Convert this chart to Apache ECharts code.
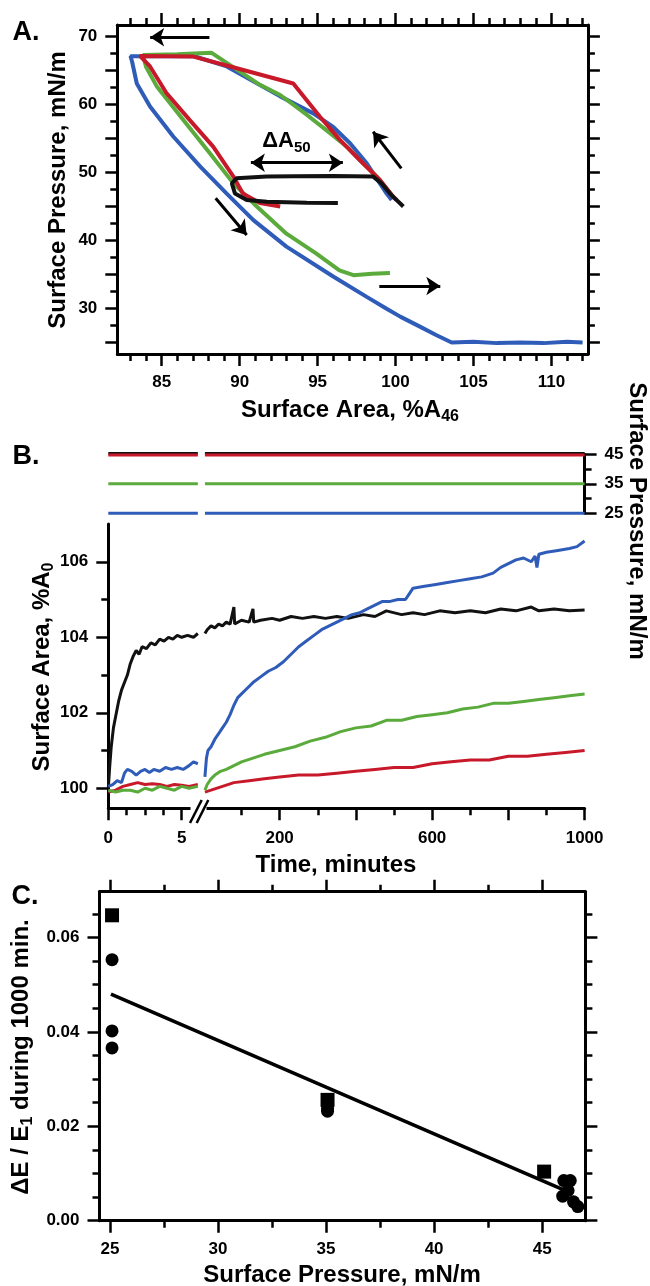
<!DOCTYPE html>
<html><head><meta charset="utf-8">
<script src="https://cdn.jsdelivr.net/npm/echarts@6/dist/echarts.min.js"></script>
<style>html,body{margin:0;padding:0;background:#fff}#c{width:650px;height:1286px}</style>
</head><body><div id="c"></div>
<script>
// ---------- Panel A data: [surface area %A46, surface pressure mN/m] ----------
const aBlue = [[99.75,45.95],[99.43,46.9],[98.15,51.35],[97.08,54.3],[96.0,56.7],[94.72,58.7],[92.6,61.2],[89.17,65.6],[87.1,67.1],[83.0,67.1],
  [83.1,66.3],[83.4,63.1],[84.25,59.7],[85.74,55.3],[87.46,50.9],[89.17,46.9],[90.88,43.0],[93.0,39.1],[96.0,34.7],[98.15,31.7],
  [99.4,30.0],[100.3,28.8],[101.5,27.4],[102.6,26.1],[103.6,25.0],[105,25.1],[106.5,24.9],[108,25.0],[109.5,24.9],[111,25.1],[112.0,25.0]];
const aGreen = [[99.86,46.4],[98.8,49.4],[97.72,51.8],[96.87,53.8],[95.8,55.8],[94.3,58.5],[92.6,61.4],[91.3,62.9],[88.2,67.6],[86,67.4],[83.8,67.3],
  [84.0,65.5],[84.7,62.6],[86.4,57.7],[88.1,52.8],[89.6,48.4],[91.1,45.0],[93.0,41.0],[94.9,38.1],[96.4,35.6],[97.3,34.9],[98.5,35.1],[99.64,35.2]];
const aRed = [[100.07,45.95],[99.86,46.4],[99.0,48.9],[97.72,51.8],[96.43,54.8],[95.15,58.2],[93.44,63.1],[89.4,65.6],[87.03,67.05],[83.6,67.15],
  [84.25,65.6],[85.3,61.7],[86.8,57.7],[88.3,53.8],[89.6,49.4],[90.2,46.9],[91.3,45.5],[92.6,45.0]];
const aBlack = [[100.5,45.0],[99.64,46.9],[99.1,48.4],[98.57,49.4],[96.0,49.5],[93.5,49.45],[91.74,49.4],[89.8,49.15],[89.5,48.4],[89.7,46.9],
  [90.45,45.95],[91.74,45.7],[94.3,45.55],[96.3,45.5]];
const aXTicks = [85,90,95,100,105,110];
const aXMinor = [83,84,86,87,88,89,91,92,93,94,96,97,98,99,101,102,103,104,106,107,108,109,111,112];
const aYTicks = [25,30,35,40,45,50,55,60,65,70];
const aYLabels = [30,40,50,60,70];
const aYMinor = [27.5,32.5,37.5,42.5,47.5,52.5,57.5,62.5,67.5];
// arrows [x1,y1,x2,y2]
const aArrows = [[88.06,69.9,84.26,69.9],[100.37,50.6,98.56,56.0],[88.46,46.2,90.45,40.8],[98.96,33.3,102.87,33.3]];
const aDouble = [90.72,51.44,96.62,51.44];
const aDeltaLabelPos = [93.0,54.6];

// ---------- Panel B data: [time min, surface area %A0] ----------
const bBlackEarly = [[0,100.0],[0.1,100.6],[0.2,101.1],[0.35,101.6],[0.5,101.9],[0.7,102.3],[0.9,102.6],[1.1,102.8],[1.3,103.0],[1.5,103.3],[1.7,103.5],[1.9,103.65],[2.1,103.55],[2.3,103.75],[2.6,103.7],[2.9,103.85],[3.2,103.8],[3.5,103.95],[3.8,103.9],[4.1,104.0],[4.4,103.95],[4.7,104.05],[5.0,104.0],[5.4,104.05],[5.8,104.0],[6.1,104.1]];
const bBlackLate = [[4,104.1],[10,104.2],[20,104.3],[30,104.25],[40,104.35],[50,104.3],[60,104.4],[70,104.35],[80,104.8],[82,104.35],[100,104.45],[120,104.4],[130,104.75],[132,104.4],[150,104.45],[180,104.5],[200,104.45],[230,104.55],[260,104.5],[290,104.55],[320,104.5],[350,104.55],[380,104.5],[420,104.6],[450,104.55],[480,104.7],[520,104.6],[550,104.65],[580,104.6],[620,104.7],[660,104.65],[700,104.7],[740,104.65],[780,104.75],[820,104.7],[860,104.8],[880,104.7],[920,104.75],[960,104.7],[1000,104.72]];
const bBlueEarly = [[0,100.05],[0.3,100.1],[0.6,100.2],[0.9,100.15],[1.1,100.4],[1.3,100.5],[1.6,100.45],[1.9,100.35],[2.2,100.45],[2.5,100.5],[2.8,100.42],[3.1,100.5],[3.5,100.45],[3.9,100.55],[4.3,100.5],[4.7,100.55],[5.1,100.5],[5.5,100.6],[5.8,100.7],[6.1,100.65]];
const bBlueLate = [[4,100.3],[8,100.8],[12,101.0],[20,101.1],[30,101.3],[40,101.45],[50,101.6],[60,101.75],[70,101.95],[80,102.2],[90,102.4],[100,102.5],[115,102.65],[130,102.8],[150,102.95],[170,103.1],[190,103.2],[210,103.35],[230,103.55],[250,103.75],[270,103.9],[290,104.05],[310,104.2],[330,104.3],[350,104.4],[370,104.5],[390,104.6],[410,104.65],[430,104.75],[450,104.85],[470,104.95],[490,104.95],[510,105.0],[530,105.0],[540,105.15],[550,105.3],[580,105.35],[610,105.4],[640,105.45],[670,105.5],[700,105.55],[730,105.6],[760,105.7],[780,105.85],[800,105.95],[820,106.05],[840,106.1],[860,106.0],[870,106.15],[875,105.85],[880,106.2],[900,106.25],[930,106.3],[960,106.35],[980,106.4],[1000,106.55]];
const bGreenEarly = [[0,99.95],[0.5,99.9],[1,99.95],[1.5,99.95],[2,99.9],[2.5,100.0],[3,99.95],[3.5,100.05],[4,100.0],[4.5,99.95],[5,100.05],[5.5,100.0],[6.1,100.05]];
const bGreenLate = [[4,99.95],[10,100.1],[20,100.25],[30,100.35],[45,100.45],[60,100.5],[80,100.6],[100,100.7],[130,100.8],[160,100.9],[200,101.0],[240,101.1],[280,101.25],[320,101.35],[360,101.5],[400,101.6],[440,101.65],[480,101.8],[520,101.8],[560,101.9],[600,101.95],[640,102.0],[680,102.1],[720,102.15],[760,102.25],[800,102.25],[840,102.3],[880,102.35],[920,102.4],[960,102.45],[1000,102.5]];
const bRedEarly = [[0,99.9],[0.5,99.95],[1,100.05],[1.5,100.1],[2,100.15],[2.5,100.1],[3,100.12],[3.5,100.1],[4,100.05],[4.5,100.1],[5,100.08],[5.5,100.05],[6.1,100.1]];
const bRedLate = [[4,99.9],[20,99.95],[50,100.05],[80,100.15],[120,100.2],[160,100.25],[200,100.3],[250,100.35],[300,100.35],[350,100.4],[400,100.45],[450,100.5],[500,100.55],[550,100.55],[600,100.65],[650,100.7],[700,100.75],[750,100.75],[800,100.85],[850,100.85],[900,100.9],[950,100.95],[1000,101.0]];
// surface pressure held during creep (top strip)
const bPressEarly = {black:[[0,45.3],[6.1,45.3]], red:[[0,44.8],[6.1,44.8]], green:[[0,35],[6.1,35]], blue:[[0,25],[6.1,25]]};
const bPressLate = {black:[[4,45.3],[1000,45.3]], red:[[4,44.8],[1000,44.8]], green:[[4,35],[1000,35]], blue:[[4,25],[1000,25]]};
const bXEarlyTicks = [0,5], bXEarlyMinor = [1.25,2.5,3.75];
const bXLateTicks = [200,400,600,800,1000], bXLateLabels = [200,600,1000], bXLateMinor = [100,300,500,700,900];
const bYTicks = [100,102,104,106], bYMinor = [101,103,105];
const bPTicks = [25,35,45], bPMinor = [30,40];

// ---------- Panel C data: [surface pressure, dE/E1] ----------
const cSquares = [[25.1,0.0647],[35.07,0.0256],[45.09,0.0104]];
const cCircles = [[25.1,0.0553],[25.1,0.0402],[25.1,0.0366],[35.07,0.0238],[35.07,0.0232],[46.0,0.0085],[46.3,0.0085],[45.95,0.0052],[46.2,0.0064],[46.45,0.0040],[46.65,0.0030]];
const cFit = [[25.05,0.0480],[46.1,0.0063]];
const cXTicks = [25,30,35,40,45], cXMinor = [27.5,32.5,37.5,42.5];
const cYTicks = [0,0.02,0.04,0.06], cYMinor = [0.005,0.01,0.015,0.025,0.03,0.035,0.045,0.05,0.055,0.065];

const FONT = "'Liberation Sans', Arial, sans-serif";
const COL = {blue:'#2f5cb8', green:'#5aaa3c', red:'#c8192b', black:'#111111'};

const grids = [
  {left:117.3, top:25, width:470.6, height:329},     // 0 A
  {left:108.3, top:524, width:91, height:284.3},     // 1 B early
  {left:203.4, top:524, width:381.2, height:284.3},  // 2 B late
  {left:108.3, top:454.3, width:91, height:59},      // 3 strip early
  {left:203.4, top:454.3, width:381.2, height:59},   // 4 strip late
  {left:99.5, top:891.7, width:485.9, height:329}    // 5 C
];
const xAxes = [], yAxes = [];
const plain = v => String(v);
function addAxis(list, o) {
  list.push({
    type:'value', gridIndex:o.grid, position:o.pos, min:o.min, max:o.max, show: o.show !== false,
    axisLine:{show:o.line !== false, onZero:false, lineStyle:{color:'#000', width:3}},
    axisTick:{show:!!o.ticks, inside:false, length:o.len || 6, customValues:o.ticks || [], lineStyle:{color:'#000', width:2.5}},
    axisLabel: o.labels ? {show:true, customValues:o.labels, margin:o.margin, fontFamily:FONT, fontWeight:'bold', fontSize:17, color:'#000', formatter:o.fmt || plain} : {show:false},
    splitLine:{show:false}
  });
  return list.length - 1;
}
// Panel A
const axAx = addAxis(xAxes,{grid:0,pos:'bottom',min:82.15,max:112.34,ticks:aXTicks,len:12,labels:aXTicks,margin:20});
addAxis(xAxes,{grid:0,pos:'bottom',min:82.15,max:112.34,ticks:aXMinor,len:7,line:false});
addAxis(xAxes,{grid:0,pos:'top',min:82.15,max:112.34,ticks:aXTicks,len:12});
addAxis(xAxes,{grid:0,pos:'top',min:82.15,max:112.34,ticks:aXMinor,len:7,line:false});
const axAy = addAxis(yAxes,{grid:0,pos:'left',min:23.3,max:71.7,ticks:aYTicks,len:12,labels:aYLabels,margin:20});
addAxis(yAxes,{grid:0,pos:'left',min:23.3,max:71.7,ticks:aYMinor,len:7,line:false});
addAxis(yAxes,{grid:0,pos:'right',min:23.3,max:71.7,ticks:aYTicks,len:12});
addAxis(yAxes,{grid:0,pos:'right',min:23.3,max:71.7,ticks:aYMinor,len:7,line:false});
// Panel B main
const axBEx = addAxis(xAxes,{grid:1,pos:'bottom',min:0,max:6.2,ticks:bXEarlyTicks,len:12,labels:bXEarlyTicks,margin:22});
addAxis(xAxes,{grid:1,pos:'bottom',min:0,max:6.2,ticks:bXEarlyMinor,len:7,line:false});
const axBEy = addAxis(yAxes,{grid:1,pos:'left',min:99.47,max:107,ticks:bYTicks,len:12,labels:bYTicks,margin:20});
addAxis(yAxes,{grid:1,pos:'left',min:99.47,max:107,ticks:bYMinor,len:7,line:false});
const axBLx = addAxis(xAxes,{grid:2,pos:'bottom',min:0,max:1000,ticks:bXLateTicks,len:12,labels:bXLateLabels,margin:22});
addAxis(xAxes,{grid:2,pos:'bottom',min:0,max:1000,ticks:bXLateMinor,len:7,line:false});
const axBLy = addAxis(yAxes,{grid:2,pos:'left',min:99.47,max:107,show:false});
// strip
const axSEx = addAxis(xAxes,{grid:3,pos:'bottom',min:0,max:6.2,show:false});
const axSEy = addAxis(yAxes,{grid:3,pos:'left',min:25,max:45,show:false});
const axSLx = addAxis(xAxes,{grid:4,pos:'bottom',min:0,max:1000,show:false});
const axSLy = addAxis(yAxes,{grid:4,pos:'right',min:25,max:45,ticks:bPTicks,len:12,labels:bPTicks,margin:20});
addAxis(yAxes,{grid:4,pos:'right',min:25,max:45,ticks:bPMinor,len:7,line:false});
// Panel C
const f2 = v => v.toFixed(2);
const axCx = addAxis(xAxes,{grid:5,pos:'bottom',min:24.52,max:47,ticks:cXTicks,len:12,labels:cXTicks,margin:20});
addAxis(xAxes,{grid:5,pos:'bottom',min:24.52,max:47,ticks:cXMinor,len:7,line:false});
addAxis(xAxes,{grid:5,pos:'top',min:24.52,max:47,ticks:cXTicks,len:12});
addAxis(xAxes,{grid:5,pos:'top',min:24.52,max:47,ticks:cXMinor,len:7,line:false});
const axCy = addAxis(yAxes,{grid:5,pos:'left',min:0,max:0.0697,ticks:cYTicks,len:12,labels:cYTicks,margin:20,fmt:f2});
addAxis(yAxes,{grid:5,pos:'left',min:0,max:0.0697,ticks:cYMinor,len:7,line:false});
addAxis(yAxes,{grid:5,pos:'right',min:0,max:0.0697,ticks:cYTicks,len:12});
addAxis(yAxes,{grid:5,pos:'right',min:0,max:0.0697,ticks:cYMinor,len:7,line:false});

function line(xi, yi, data, color, width, extra) {
  return Object.assign({type:'line', xAxisIndex:xi, yAxisIndex:yi, data:data, symbol:'none', showSymbol:false,
    lineStyle:{color:color, width:width}, itemStyle:{color:color}, animation:false, silent:true}, extra || {});
}
const series = [];
// A
series.push(line(axAx, axAy, aBlue, COL.blue, 4));
series.push(line(axAx, axAy, aGreen, COL.green, 4));
series.push(line(axAx, axAy, aRed, COL.red, 4));
series.push(line(axAx, axAy, aBlack, COL.black, 4));
const arrowLS = {color:'#000', width:3, type:'solid'};
series.push(line(axAx, axAy, [], '#000', 3, {
  markLine:{silent:true, symbol:['none','arrow'], symbolSize:14, label:{show:false}, lineStyle:arrowLS, animation:false,
    data: aArrows.map(a => [{coord:[a[0],a[1]]},{coord:[a[2],a[3]]}])},
  markPoint:{silent:true, animation:false, data:[{coord:aDeltaLabelPos, symbol:'circle', symbolSize:1, itemStyle:{color:'rgba(0,0,0,0)'},
    label:{show:true, position:'inside', formatter:'{m|ΔA}{s|50}', rich:{
      m:{fontFamily:FONT, fontWeight:'bold', fontSize:22, color:'#000', lineHeight:28},
      s:{fontFamily:FONT, fontWeight:'bold', fontSize:15, color:'#000', lineHeight:15, verticalAlign:'bottom'}}}}]}
}));
series.push(line(axAx, axAy, [], '#000', 3, {
  markLine:{silent:true, symbol:['arrow','arrow'], symbolSize:14, label:{show:false}, lineStyle:arrowLS, animation:false,
    data:[[{coord:[aDouble[0],aDouble[1]]},{coord:[aDouble[2],aDouble[3]]}]]}
}));
// B main
series.push(line(axBEx, axBEy, bBlackEarly, COL.black, 3));
series.push(line(axBLx, axBLy, bBlackLate, COL.black, 3));
series.push(line(axBEx, axBEy, bBlueEarly, COL.blue, 3));
series.push(line(axBLx, axBLy, bBlueLate, COL.blue, 3));
series.push(line(axBEx, axBEy, bRedEarly, COL.red, 3));
series.push(line(axBLx, axBLy, bRedLate, COL.red, 3));
series.push(line(axBEx, axBEy, bGreenEarly, COL.green, 3));
series.push(line(axBLx, axBLy, bGreenLate, COL.green, 3));
// strip
['black','red','green','blue'].forEach(k => {
  series.push(line(axSEx, axSEy, bPressEarly[k], COL[k], 3, {clip:false}));
  series.push(line(axSLx, axSLy, bPressLate[k], COL[k], 3, {clip:false}));
});
// C
series.push(line(axCx, axCy, cFit, '#000', 3.5));
series.push({type:'scatter', xAxisIndex:axCx, yAxisIndex:axCy, data:cSquares, symbol:'rect', symbolSize:14, itemStyle:{color:'#000', opacity:1}, animation:false, silent:true});
series.push({type:'scatter', xAxisIndex:axCx, yAxisIndex:axCy, data:cCircles, symbol:'circle', symbolSize:13, itemStyle:{color:'#000', opacity:1}, animation:false, silent:true});

function T(x, y, text, size, rot, rich) {
  const st = {text:text, fontFamily:FONT, fontWeight:'bold', fontSize:size, fill:'#000', align:'center', verticalAlign:'middle'};
  if (rich) st.rich = rich;
  return {type:'text', x:x, y:y, rotation:rot || 0, style:st, z:100};
}
const subRich = {
  m:{fontFamily:FONT, fontWeight:'bold', fontSize:24, fill:'#000', lineHeight:30},
  s:{fontFamily:FONT, fontWeight:'bold', fontSize:16, fill:'#000', lineHeight:16, verticalAlign:'bottom'}
};
const graphic = [
  T(26, 33, 'A.', 27), T(26, 457, 'B.', 27), T(25, 897, 'C.', 27),
  T(58, 190, 'Surface Pressure, mN/m', 24, Math.PI/2),
  T(350, 410, '{m|Surface Area, %A}{s|46}', 24, 0, subRich),
  T(637, 521, 'Surface Pressure, mN/m', 24, -Math.PI/2),
  T(42, 667, '{m|Surface Area, %A}{s|0}', 24, Math.PI/2, subRich),
  T(336, 865, 'Time, minutes', 24),
  T(21, 1057, '{m|ΔE / E}{s|1}{m| during 1000 min.}', 24, Math.PI/2, subRich),
  T(342, 1275, 'Surface Pressure, mN/m', 24),
  // axis break
  {type:'rect', shape:{x:190.5, y:804, width:16, height:9}, style:{fill:'#fff'}, z:100},
  {type:'line', shape:{x1:190, y1:823, x2:201.7, y2:800}, style:{stroke:'#000', lineWidth:2.5}, z:101},
  {type:'line', shape:{x1:196.7, y1:823, x2:208.3, y2:800}, style:{stroke:'#000', lineWidth:2.5}, z:101}
];

const chart = echarts.init(document.getElementById('c'), null, {renderer:'canvas'});
chart.setOption({animation:false, backgroundColor:'#fff', grid:grids, xAxis:xAxes, yAxis:yAxes, series:series, graphic:graphic});
</script></body></html>
